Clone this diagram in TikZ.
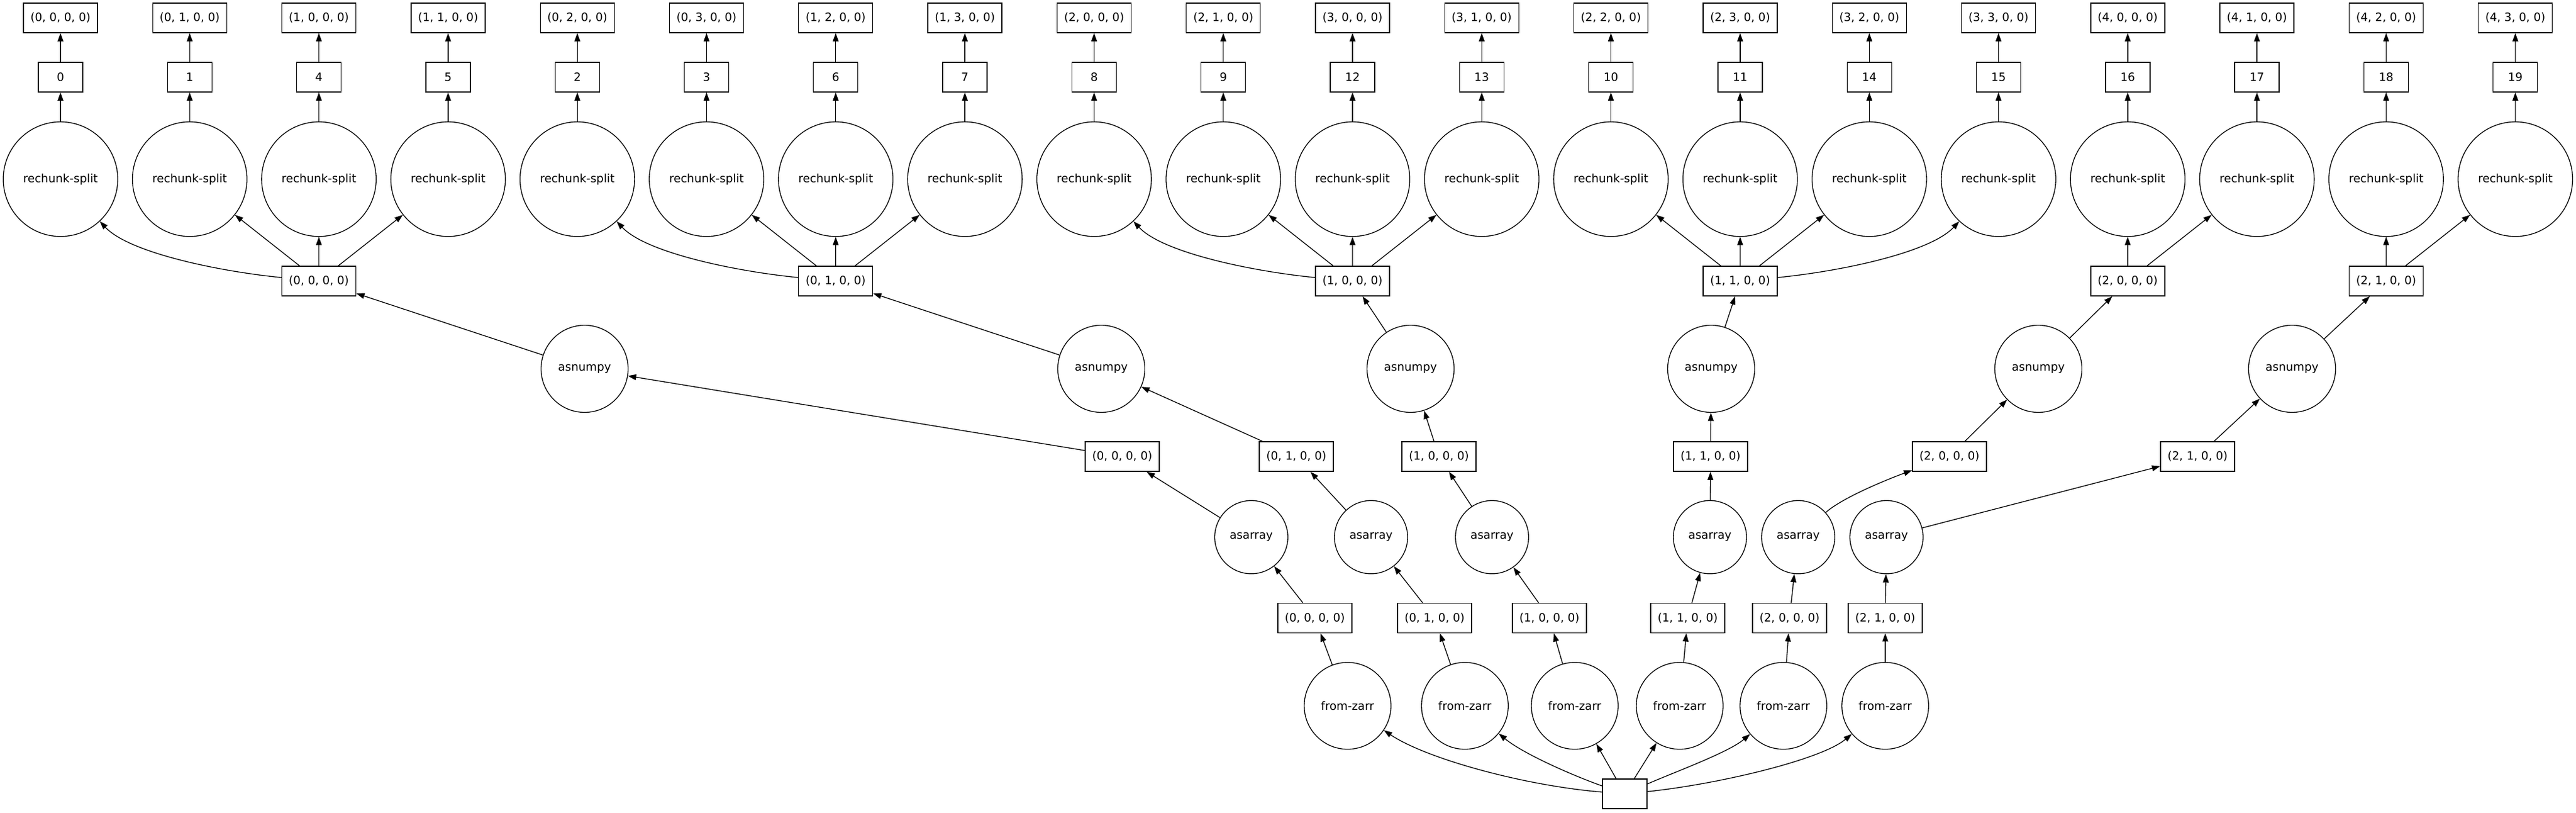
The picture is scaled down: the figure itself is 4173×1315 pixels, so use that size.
\documentclass[tikz,border=0pt]{standalone}
\usepackage{fontspec}
\setmainfont{DejaVu Sans}
\usetikzlibrary{arrows.meta}
\begin{document}
\begin{tikzpicture}[x=1pt,y=-1pt,line width=1.33pt,
  >={Triangle[length=13.3pt,width=9.3pt]},
  every node/.style={font=\fontsize{18.6pt}{22pt}\selectfont,inner sep=0pt,line width=1.33pt},
  box/.style={draw,rectangle,minimum height=48pt,minimum width=#1},
  box/.default=120pt,
  rsplit/.style={draw,circle,minimum size=185.5pt},
  anp/.style={draw,circle,minimum size=141pt},
  aar/.style={draw,circle,minimum size=118.5pt},
  fzr/.style={draw,circle,minimum size=140.5pt},
  edge/.style={->}]
\fill[white] (0,0) rectangle (4173,1315);
\useasboundingbox (0,0) rectangle (4173,1315);
% top three rows: 20 columns
\foreach \i/\n/\t in {0/0/{(0, 0, 0, 0)},1/1/{(0, 1, 0, 0)},2/4/{(1, 0, 0, 0)},3/5/{(1, 1, 0, 0)},
  4/2/{(0, 2, 0, 0)},5/3/{(0, 3, 0, 0)},6/6/{(1, 2, 0, 0)},7/7/{(1, 3, 0, 0)},
  8/8/{(2, 0, 0, 0)},9/9/{(2, 1, 0, 0)},10/12/{(3, 0, 0, 0)},11/13/{(3, 1, 0, 0)},
  12/10/{(2, 2, 0, 0)},13/11/{(2, 3, 0, 0)},14/14/{(3, 2, 0, 0)},15/15/{(3, 3, 0, 0)},
  16/16/{(4, 0, 0, 0)},17/17/{(4, 1, 0, 0)},18/18/{(4, 2, 0, 0)},19/19/{(4, 3, 0, 0)}}{
  \node[box] (t\i) at ({98+209.3*\i},29) {\t};
  \node[box=72pt] (n\i) at ({98+209.3*\i},125) {\n};
  \node[rsplit] (r\i) at ({98+209.3*\i},290) {rechunk-split};
  \draw[edge] (r\i) -- (n\i);
  \draw[edge] (n\i) -- (t\i);
}
% level D boxes
\node[box] (d0) at (516.6,455) {(0, 0, 0, 0)};
\node[box] (d1) at (1353.8,455) {(0, 1, 0, 0)};
\node[box] (d2) at (2191,455) {(1, 0, 0, 0)};
\node[box] (d3) at (2818.9,455) {(1, 1, 0, 0)};
\node[box] (d4) at (3446.8,455) {(2, 0, 0, 0)};
\node[box] (d5) at (3865.4,455) {(2, 1, 0, 0)};
% D -> rechunk
\draw[edge] (d0) .. controls (360,440) and (210,410) .. (r0);
\draw[edge] (d0) -- (r1);
\draw[edge] (d0) -- (r2);
\draw[edge] (d0) -- (r3);
\draw[edge] (d1) .. controls (1197.2,440) and (1047.2,410) .. (r4);
\draw[edge] (d1) -- (r5);
\draw[edge] (d1) -- (r6);
\draw[edge] (d1) -- (r7);
\draw[edge] (d2) .. controls (2034.4,440) and (1884.4,410) .. (r8);
\draw[edge] (d2) -- (r9);
\draw[edge] (d2) -- (r10);
\draw[edge] (d2) -- (r11);
\draw[edge] (d3) -- (r12);
\draw[edge] (d3) -- (r13);
\draw[edge] (d3) -- (r14);
\draw[edge] (d3) .. controls (2975.5,440) and (3125.5,410) .. (r15);
\draw[edge] (d4) -- (r16);
\draw[edge] (d4) -- (r17);
\draw[edge] (d5) -- (r18);
\draw[edge] (d5) -- (r19);
% asnumpy
\node[anp] (an1) at (947,597) {asnumpy};
\node[anp] (an2) at (1784,597) {asnumpy};
\node[anp] (an3) at (2285,597) {asnumpy};
\node[anp] (an4) at (2772,597) {asnumpy};
\node[anp] (an5) at (3302,597) {asnumpy};
\node[anp] (an6) at (3713,597) {asnumpy};
\draw[edge] (an1) -- (d0);
\draw[edge] (an2) -- (d1);
\draw[edge] (an3) -- (d2);
\draw[edge] (an4) -- (d3);
\draw[edge] (an5) -- (d4);
\draw[edge] (an6) -- (d5);
% F boxes
\node[box] (f1) at (1818,739) {(0, 0, 0, 0)};
\node[box] (f2) at (2100,739) {(0, 1, 0, 0)};
\node[box] (f3) at (2331,739) {(1, 0, 0, 0)};
\node[box] (f4) at (2771,739) {(1, 1, 0, 0)};
\node[box] (f5) at (3158,739) {(2, 0, 0, 0)};
\node[box] (f6) at (3560,739) {(2, 1, 0, 0)};
\foreach \k in {1,...,6}{\draw[edge] (f\k) -- (an\k);}
% asarray
\node[aar] (aa1) at (2027,869.5) {asarray};
\node[aar] (aa2) at (2221,869.5) {asarray};
\node[aar] (aa3) at (2417,869.5) {asarray};
\node[aar] (aa4) at (2770,869.5) {asarray};
\node[aar] (aa5) at (2913,869.5) {asarray};
\node[aar] (aa6) at (3056,869.5) {asarray};
\draw[edge] (aa1) -- (f1);
\draw[edge] (aa2) -- (f2);
\draw[edge] (aa3) -- (f3);
\draw[edge] (aa4) -- (f4);
\draw[edge] (aa5) .. controls (2985,805) and (3060,775) .. (f5);
\draw[edge] (aa6) -- (f6);
% H boxes
\node[box] (h1) at (2130,1000.5) {(0, 0, 0, 0)};
\node[box] (h2) at (2324,1000.5) {(0, 1, 0, 0)};
\node[box] (h3) at (2510,1000.5) {(1, 0, 0, 0)};
\node[box] (h4) at (2734,1000.5) {(1, 1, 0, 0)};
\node[box] (h5) at (2899,1000.5) {(2, 0, 0, 0)};
\node[box] (h6) at (3054,1000.5) {(2, 1, 0, 0)};
\foreach \k in {1,...,6}{\draw[edge] (h\k) -- (aa\k);}
% from-zarr
\node[fzr] (fz1) at (2183,1142.5) {from-zarr};
\node[fzr] (fz2) at (2373,1142.5) {from-zarr};
\node[fzr] (fz3) at (2551,1142.5) {from-zarr};
\node[fzr] (fz4) at (2721,1142.5) {from-zarr};
\node[fzr] (fz5) at (2889,1142.5) {from-zarr};
\node[fzr] (fz6) at (3054,1142.5) {from-zarr};
\foreach \k in {1,...,6}{\draw[edge] (fz\k) -- (h\k);}
% root
\node[box=72pt] (root) at (2632,1285) {};
\draw[edge] (root) .. controls (2470,1272) and (2310,1228) .. (fz1);
\draw[edge] (root) .. controls (2555,1258) and (2470,1222) .. (fz2);
\draw[edge] (root) -- (fz3);
\draw[edge] (root) -- (fz4);
\draw[edge] (root) .. controls (2712,1250) and (2800,1218) .. (fz5);
\draw[edge] (root) .. controls (2780,1270) and (2950,1230) .. (fz6);
\end{tikzpicture}
\end{document}
